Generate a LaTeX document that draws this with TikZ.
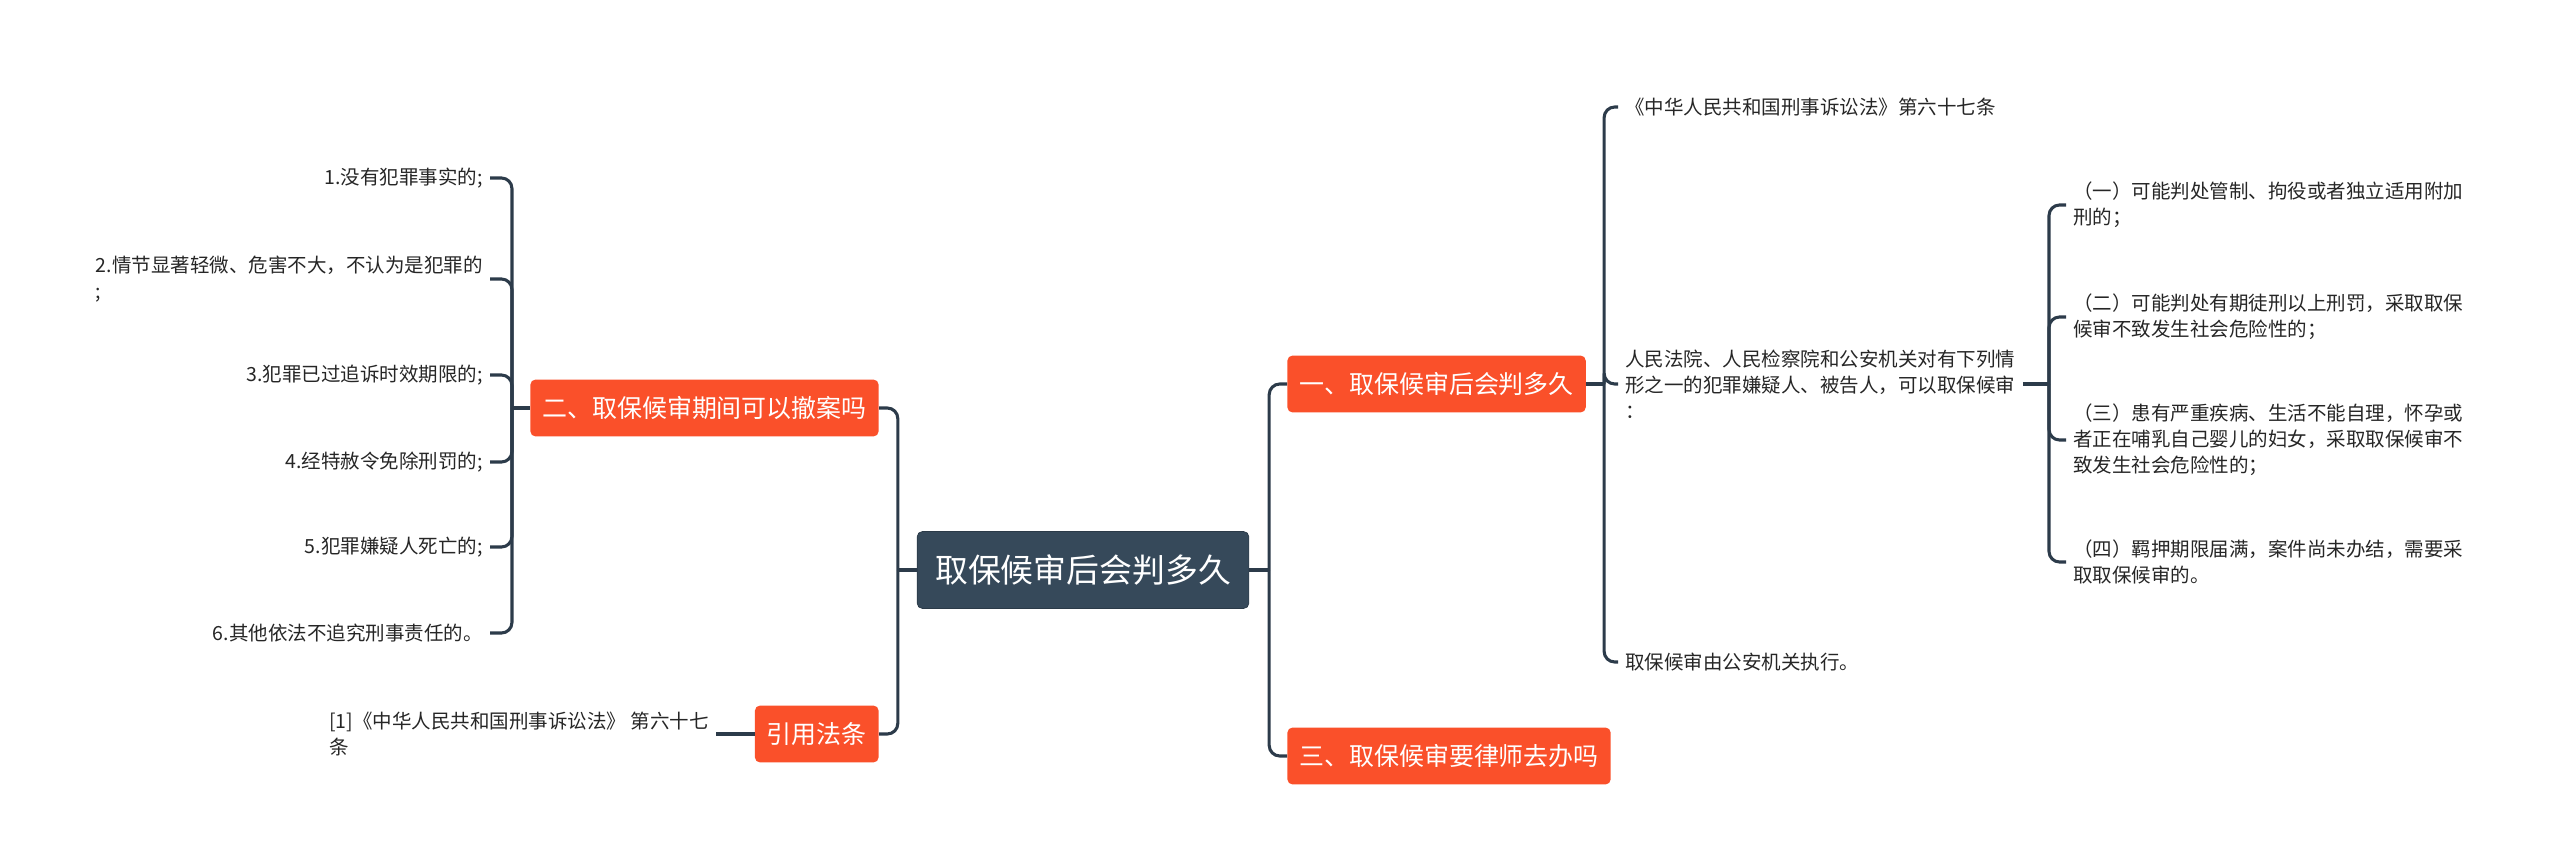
\documentclass[tikz,border=0pt]{standalone}
\usepackage{fontspec}
\setmainfont{Noto Sans CJK SC}
\usetikzlibrary{positioning}
\definecolor{rootslate}{HTML}{36495A}
\definecolor{brorange}{HTML}{FA502A}
\definecolor{linkdark}{HTML}{2C3B4A}
\definecolor{leafgray}{HTML}{262626}
\newcommand{\leaffont}{\fontsize{11.1}{14.8}\selectfont}
\newcommand{\brfont}{\fontsize{14.2}{17}\selectfont}
\newcommand{\rootfont}{\fontsize{18.7}{22}\selectfont}

\begin{document}
\begin{tikzpicture}[x=0.02cm, y=-0.02cm,
    root/.style={rectangle, fill=rootslate, draw=rootslate!80!black, rounded corners=3pt, text=white, font=\rootfont, minimum height=1.54cm, inner xsep=0.36cm},
    branch/.style={rectangle, fill=brorange, rounded corners=3pt, text=white, font=\brfont, minimum height=1.14cm, inner xsep=0.24cm},
    leaf/.style={font=\leaffont, text=leafgray, inner xsep=4pt, inner ysep=2pt, align=left},
    link/.style={draw=linkdark, line width=1.75pt},
    elbow/.style={link, rounded corners=6pt}]
  \useasboundingbox (0,0) rectangle (2560,868);
  % main topic and branches
  \node[root] (root) at (1083,570) {取保候审后会判多久};
  \node[branch, anchor=east] (b2) at (879,408) {二、取保候审期间可以撤案吗};
  \node[branch, anchor=east] (cite) at (879,734) {引用法条};
  \node[branch, anchor=west] (b1) at (1287,384) {一、取保候审后会判多久};
  \node[branch, anchor=west] (b3) at (1287,756) {三、取保候审要律师去办吗};
  % left leaves
  \node[leaf, anchor=east] (l1) at (490,178) {1.没有犯罪事实的;};
  \node[leaf, anchor=east] (l2) at (490,279) {2.情节显著轻微、危害不大，不认为是犯罪的\\;};
  \node[leaf, anchor=east] (l3) at (490,375) {3.犯罪已过追诉时效期限的;};
  \node[leaf, anchor=east] (l4) at (490,462) {4.经特赦令免除刑罚的;};
  \node[leaf, anchor=east] (l5) at (490,547) {5.犯罪嫌疑人死亡的;};
  \node[leaf, anchor=east] (l6) at (490,633) {6.其他依法不追究刑事责任的。};
  \node[leaf, anchor=east] (law) at (716,734) {[1]《中华人民共和国刑事诉讼法》 第六十七\\条};
  % right leaves
  \node[leaf, anchor=west] (r1) at (1618,107) {《中华人民共和国刑事诉讼法》第六十七条};
  \node[leaf, anchor=west] (r2) at (1618,384) {人民法院、人民检察院和公安机关对有下列情\\形之一的犯罪嫌疑人、被告人，可以取保候审\\：};
  \node[leaf, anchor=west] (r3) at (1618,662) {取保候审由公安机关执行。};
  \node[leaf, anchor=west] (s1) at (2066,205) {（一）可能判处管制、拘役或者独立适用附加\\刑的；};
  \node[leaf, anchor=west] (s2) at (2066,317) {（二）可能判处有期徒刑以上刑罚，采取取保\\候审不致发生社会危险性的；};
  \node[leaf, anchor=west] (s3) at (2066,440) {（三）患有严重疾病、生活不能自理，怀孕或\\者正在哺乳自己婴儿的妇女，采取取保候审不\\致发生社会危险性的；};
  \node[leaf, anchor=west] (s4) at (2066,562) {（四）羁押期限届满，案件尚未办结，需要采\\取取保候审的。};
  % connectors
  \draw[link] (root.east) -- ++(20,0) coordinate (rootR);
  \draw[link] (root.west) -- ++(-19,0) coordinate (rootL);
  \foreach \k in {b1,b3} \draw[elbow] (rootR) |- (\k.west);
  \foreach \k in {b2,cite} \draw[elbow] (rootL) |- (\k.east);
  \draw[link] (b2.west) -- ++(-18,0) coordinate (b2L);
  \foreach \i in {1,...,6} \draw[elbow] (b2L) |- (l\i.east);
  \draw[link] (law.east) -- (cite.west);
  \draw[link] (b1.east) -- ++(18,0) coordinate (b1R);
  \foreach \k in {r1,r2,r3} \draw[elbow] (b1R) |- (\k.west);
  \draw[link] (r2.east) -- (2049,384) coordinate (r2R);
  \foreach \i in {1,...,4} \draw[elbow] (r2R) |- (s\i.west);
\end{tikzpicture}
\end{document}
